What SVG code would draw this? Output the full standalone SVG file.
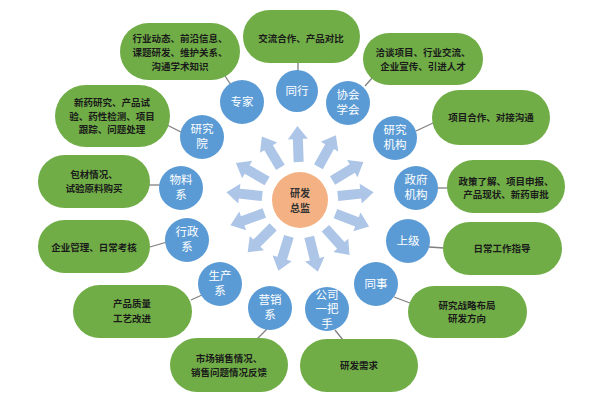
<svg xmlns="http://www.w3.org/2000/svg" width="600" height="400" viewBox="0 0 600 400">
<style>
.pill{fill:#70AD47;}
.bub{fill:#5B9BD5;}
.pt{font-family:"Liberation Sans","Noto Sans CJK SC",sans-serif;font-size:9.5px;font-weight:bold;fill:#1a1a1a;text-anchor:middle;}
.bt{font-family:"Liberation Sans","Noto Sans CJK SC",sans-serif;font-size:11.5px;fill:#ffffff;text-anchor:middle;}
.ct{font-family:"Liberation Sans","Noto Sans CJK SC",sans-serif;font-size:10px;font-weight:bold;fill:#333333;text-anchor:middle;}
.ln{stroke:#7F7F7F;stroke-width:1.3;fill:none;}
.arr{fill:#ADC5E7;}
</style>
<defs>
<path id="ar" d="M38,-5 L61,-5 L61,-10 L74,0 L61,10 L61,5 L38,5 Z"/>
</defs>
<rect width="600" height="400" fill="#ffffff"/>
<g id="connectors">
<g class="arr" transform="translate(300,200)">
<use href="#ar" transform="rotate(-92)"/>
<use href="#ar" transform="rotate(-121)"/>
<use href="#ar" transform="rotate(-61)"/>
<use href="#ar" transform="rotate(-150)"/>
<use href="#ar" transform="rotate(-31)"/>
<use href="#ar" transform="rotate(-174)"/>
<use href="#ar" transform="rotate(-6)"/>
<use href="#ar" transform="rotate(160)"/>
<use href="#ar" transform="rotate(21)"/>
<use href="#ar" transform="rotate(135)"/>
<use href="#ar" transform="rotate(48)"/>
<use href="#ar" transform="rotate(107)"/>
<use href="#ar" transform="rotate(76)"/>
</g>
<line class="ln" x1="225" y1="76" x2="233" y2="88"/>
<line class="ln" x1="298" y1="62" x2="298" y2="71"/>
<line class="ln" x1="373" y1="77" x2="365" y2="86"/>
<line class="ln" x1="416" y1="131" x2="433" y2="123"/>
<line class="ln" x1="167" y1="125" x2="181" y2="132"/>
<line class="ln" x1="149" y1="185" x2="160" y2="185"/>
<line class="ln" x1="150" y1="247" x2="167" y2="242"/>
<line class="ln" x1="437" y1="188" x2="448" y2="188"/>
<line class="ln" x1="429" y1="247" x2="444" y2="248"/>
<line class="ln" x1="394" y1="297" x2="410" y2="303"/>
<line class="ln" x1="335" y1="330" x2="343" y2="340"/>
<line class="ln" x1="267" y1="329" x2="257" y2="339"/>
<line class="ln" x1="191" y1="300" x2="202" y2="295"/>
</g>
<g id="center">
<circle cx="300" cy="200" r="28" fill="#F4B183"/>
<text class="ct" x="300" y="196.5">研发</text>
<text class="ct" x="300" y="211.5">总监</text>
</g>
<g id="p-hangye">
<rect class="pill" x="120" y="23" width="120" height="57" rx="28.5"/>
<text class="pt" x="180" y="41.5">行业动态、前沿信息、</text>
<text class="pt" x="180" y="55.5">课题研发、维护关系、</text>
<text class="pt" x="180" y="69.5">沟通学术知识</text>
</g>
<g id="p-jiaoliu">
<rect class="pill" x="243" y="10" width="117" height="53" rx="26.5"/>
<text class="pt" x="301" y="41.5">交流合作、产品对比</text>
</g>
<g id="p-qiatan">
<rect class="pill" x="363" y="33" width="120" height="52" rx="26"/>
<text class="pt" x="423" y="56">洽谈项目、行业交流、</text>
<text class="pt" x="423" y="69.5">企业宣传、引进人才</text>
</g>
<g id="p-xiangmu">
<rect class="pill" x="432" y="90" width="118" height="55" rx="27.5"/>
<text class="pt" x="491" y="120.5">项目合作、对接沟通</text>
</g>
<g id="p-zhengce">
<rect class="pill" x="447" y="160" width="118" height="53" rx="26.5"/>
<text class="pt" x="506" y="184.5">政策了解、项目申报、</text>
<text class="pt" x="506" y="198">产品现状、新药审批</text>
</g>
<g id="p-richang">
<rect class="pill" x="443" y="222" width="119" height="53" rx="26.5"/>
<text class="pt" x="502" y="251.5">日常工作指导</text>
</g>
<g id="p-zhanlue">
<rect class="pill" x="408" y="286" width="119" height="52" rx="26"/>
<text class="pt" x="467" y="308.5">研究战略布局</text>
<text class="pt" x="467" y="322">研发方向</text>
</g>
<g id="p-xuqiu">
<rect class="pill" x="300" y="339" width="118" height="53" rx="26.5"/>
<text class="pt" x="359" y="369">研发需求</text>
</g>
<g id="p-shichang">
<rect class="pill" x="170" y="338" width="118" height="54" rx="27"/>
<text class="pt" x="229" y="361.5">市场销售情况、</text>
<text class="pt" x="229" y="375.5">销售问题情况反馈</text>
</g>
<g id="p-chanpin">
<rect class="pill" x="73" y="285" width="119" height="53" rx="26.5"/>
<text class="pt" x="132" y="306.5">产品质量</text>
<text class="pt" x="132" y="321.5">工艺改进</text>
</g>
<g id="p-qiye">
<rect class="pill" x="38" y="220" width="112" height="53" rx="26.5"/>
<text class="pt" x="94" y="250.5">企业管理、日常考核</text>
</g>
<g id="p-baocai">
<rect class="pill" x="38" y="155" width="112" height="53" rx="26.5"/>
<text class="pt" x="94" y="178">包材情况、</text>
<text class="pt" x="94" y="192">试验原料购买</text>
</g>
<g id="p-xinyao">
<rect class="pill" x="55" y="85" width="115" height="62" rx="31"/>
<text class="pt" x="112" y="106">新药研究、产品试</text>
<text class="pt" x="112" y="119.5">验、药性检测、项目</text>
<text class="pt" x="112" y="133">跟踪、问题处理</text>
</g>
<g id="n-zhuanjia">
<circle class="bub" cx="242" cy="102" r="22"/>
<text class="bt" x="242" y="106">专家</text>
</g>
<g id="n-tonghang">
<circle class="bub" cx="297" cy="91" r="21"/>
<text class="bt" x="297" y="95">同行</text>
</g>
<g id="n-xiehui">
<circle class="bub" cx="348" cy="103" r="22"/>
<text class="bt" x="348" y="98.5">协会</text>
<text class="bt" x="348" y="113.5">学会</text>
</g>
<g id="n-yanjiujigou">
<circle class="bub" cx="395" cy="138" r="22"/>
<text class="bt" x="395" y="133.5">研究</text>
<text class="bt" x="395" y="148.5">机构</text>
</g>
<g id="n-zhengfu">
<circle class="bub" cx="416" cy="188" r="22"/>
<text class="bt" x="416" y="183.5">政府</text>
<text class="bt" x="416" y="198.5">机构</text>
</g>
<g id="n-shangji">
<circle class="bub" cx="408" cy="241" r="22"/>
<text class="bt" x="408" y="245">上级</text>
</g>
<g id="n-tongshi">
<circle class="bub" cx="376" cy="284" r="22"/>
<text class="bt" x="376" y="288">同事</text>
</g>
<g id="n-gongsi">
<circle class="bub" cx="327" cy="309" r="22"/>
<text class="bt" x="327" y="298.5">公司</text>
<text class="bt" x="327" y="313">一把</text>
<text class="bt" x="327" y="327.5">手</text>
</g>
<g id="n-yingxiao">
<circle class="bub" cx="270" cy="308" r="22"/>
<text class="bt" x="270" y="303.5">营销</text>
<text class="bt" x="270" y="318.5">系</text>
</g>
<g id="n-shengchan">
<circle class="bub" cx="220" cy="284" r="22"/>
<text class="bt" x="220" y="279.5">生产</text>
<text class="bt" x="220" y="294.5">系</text>
</g>
<g id="n-xingzheng">
<circle class="bub" cx="187" cy="240" r="22"/>
<text class="bt" x="187" y="235.5">行政</text>
<text class="bt" x="187" y="250.5">系</text>
</g>
<g id="n-wuliao">
<circle class="bub" cx="181" cy="188" r="22"/>
<text class="bt" x="181" y="183.5">物料</text>
<text class="bt" x="181" y="198.5">系</text>
</g>
<g id="n-yanjiuyuan">
<circle class="bub" cx="202" cy="137" r="22"/>
<text class="bt" x="202" y="132.5">研究</text>
<text class="bt" x="202" y="147.5">院</text>
</g>
</svg>
